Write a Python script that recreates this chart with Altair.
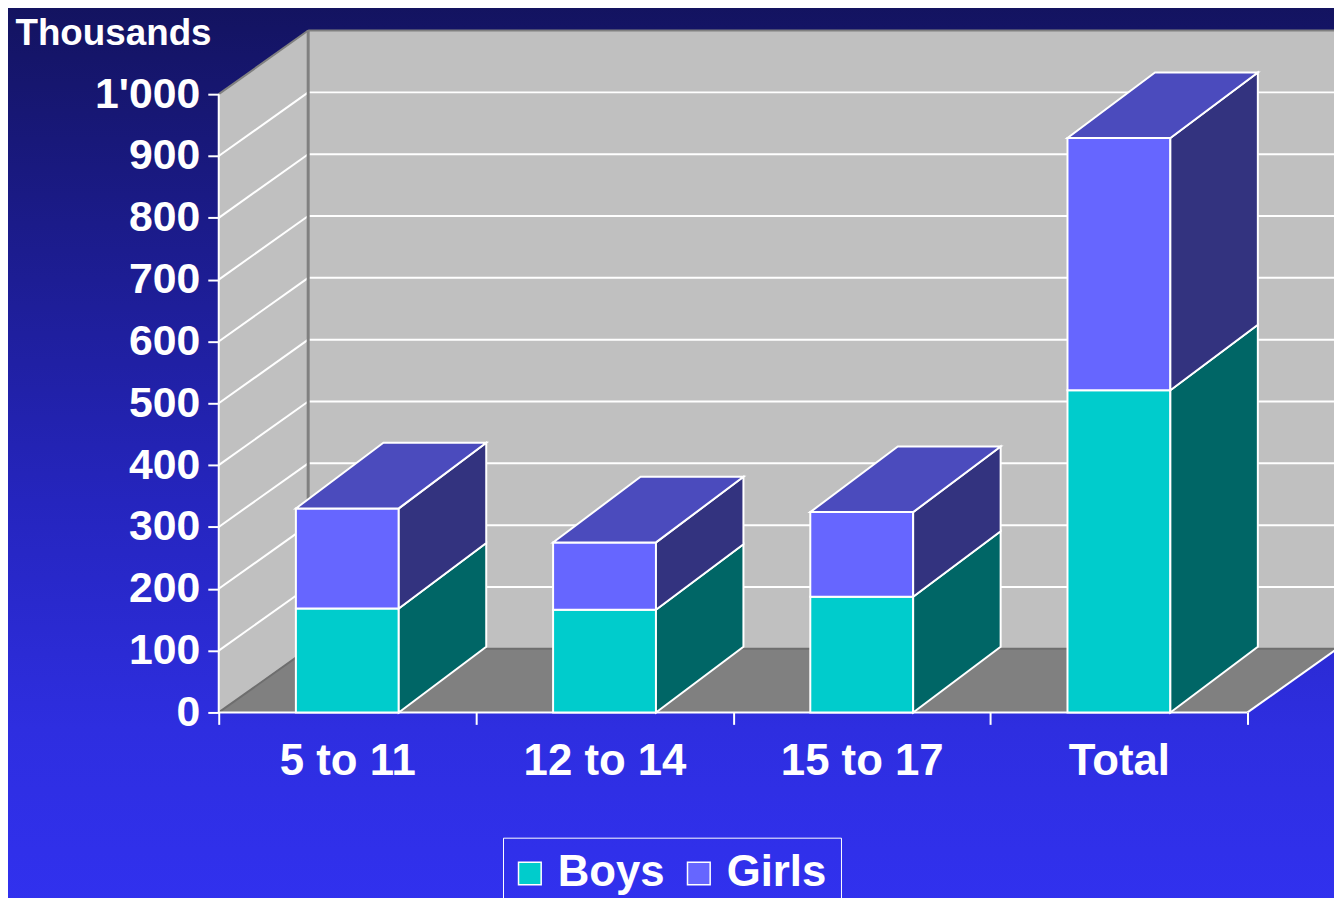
import altair as alt
import pandas as pd

# ---------------- data ----------------
categories = ["5 to 11", "12 to 14", "15 to 17", "Total"]
series = ["Boys", "Girls"]
boys = [168, 166, 187, 521]
girls = [162, 109, 137, 408]
y_ticks = list(range(0, 1001, 100))

# ---------------- style / geometry ----------------
FONT = "Liberation Sans"
W, H = 1122, 686                 # plot area in px
SLOT_PX = 258.75                 # px per category slot
Y_PX = 0.622                     # px per thousand
XMAX = W / SLOT_PX
YMAX = H / Y_PX
DX, DY = 90 / SLOT_PX, 64 / Y_PX     # wall depth
BDX, BDY = 88 / SLOT_PX, 66 / Y_PX   # bar depth
HALF = 0.2

front_col = {"Boys": "#00CCCC", "Girls": "#6666FF"}
side_col = {"Boys": "#006666", "Girls": "#33337F"}
top_col = {"Boys": "#00A3A3", "Girls": "#4B4BBD"}

xs = alt.Scale(domain=[0, XMAX], nice=False, zero=False)
ys = alt.Scale(domain=[0, YMAX], nice=False, zero=False)

# ---------------- bar geometry tables ----------------
fronts, sides, tops = [], [], []
for i, cat in enumerate(categories):
    xl, xr = i + 0.5 - HALF, i + 0.5 + HALF
    segs = [("Boys", 0, boys[i]), ("Girls", boys[i], boys[i] + girls[i])]
    for s, lo, hi in segs:
        fronts.append(dict(x=xl, x2=xr, y=lo, y2=hi, series=s, cat=cat))
        fid = f"{cat}-{s}"
        sides.append(dict(face=fid, x=xr, y=lo, y2=hi, fill=side_col[s]))
        sides.append(dict(face=fid, x=xr + BDX, y=lo + BDY, y2=hi + BDY, fill=side_col[s]))
    s, lo, hi = segs[-1]
    fid = f"{cat}-top"
    tops.append(dict(face=fid, y=hi, x=xl, x2=xr, fill=top_col[s]))
    tops.append(dict(face=fid, y=hi + BDY, x=xl + BDX, x2=xr + BDX, fill=top_col[s]))

df_front = pd.DataFrame(fronts)
df_side = pd.DataFrame(sides)
df_top = pd.DataFrame(tops)

# ---------------- walls ----------------
df_back = pd.DataFrame([dict(x=DX, x2=XMAX + 0.05, y=DY, y2=YMAX)])
df_left = pd.DataFrame([dict(face="L", x=0, y=0, y2=1000, fill="#C0C0C0"),
                        dict(face="L", x=DX, y=DY, y2=1000 + DY, fill="#C0C0C0")])
df_floor = pd.DataFrame([dict(face="F", y=0, x=0, x2=4, fill="#808080"),
                         dict(face="F", y=DY, x=DX, x2=4 + DX, fill="#808080")])

rules = []
for v in y_ticks[1:-1]:
    rules.append(dict(x=DX, x2=XMAX + 0.05, y=v + DY, y2=v + DY, c="white", w=2))
    rules.append(dict(x=0, x2=DX, y=v, y2=v + DY, c="white", w=2))
# wall edges / junctions
rules.append(dict(x=DX, x2=XMAX + 0.05, y=DY, y2=DY, c="#6E6E6E", w=2))
rules.append(dict(x=0, x2=DX, y=0, y2=DY, c="#6E6E6E", w=2))
rules.append(dict(x=DX, x2=DX, y=DY, y2=YMAX, c="#808080", w=3))
rules.append(dict(x=0, x2=DX, y=1000, y2=1000 + DY, c="#808080", w=2))
rules.append(dict(x=DX, x2=XMAX + 0.05, y=YMAX, y2=YMAX, c="#808080", w=2))
# front edges (white)
rules.append(dict(x=0, x2=4, y=0, y2=0, c="white", w=2))
rules.append(dict(x=0, x2=0, y=0, y2=1000, c="white", w=2))
rules.append(dict(x=4, x2=4 + DX, y=0, y2=DY, c="white", w=2))
df_rules = pd.DataFrame(rules)

# ---------------- axes ----------------
label_expr = "[" + ",".join(f"'{c}'" for c in categories) + ",''][datum.value]"
x_axis = alt.Axis(values=[0, 1, 2, 3, 4], labelExpr=label_expr, labelOffset=SLOT_PX / 2,
                  labelAlign="center", labelFlush=False, labelOverlap=False,
                  labelFont=FONT, labelFontSize=44, labelFontWeight="bold", labelColor="white",
                  labelPadding=15, tickColor="white", tickSize=12, tickWidth=2,
                  domain=False, grid=False, title=None, zindex=1)
y_axis = alt.Axis(values=y_ticks,
                  labelExpr="replace(format(datum.value, ','), ',', \"'\")",
                  labelFont=FONT, labelFontSize=43, labelFontWeight="bold", labelColor="white",
                  labelPadding=8, tickColor="white", tickSize=11, tickWidth=2,
                  domain=False, grid=False, title="Thousands", titleAngle=0,
                  titleAlign="left", titleBaseline="alphabetic", titleX=-205, titleY=14,
                  titleFont=FONT, titleFontSize=37, titleFontWeight="bold", titleColor="white",
                  zindex=1)


def X(field="x"):
    return alt.X(f"{field}:Q", scale=xs, axis=x_axis)


def Y(field="y"):
    return alt.Y(f"{field}:Q", scale=ys, axis=y_axis)


# ---------------- layers ----------------
bg = alt.Chart(pd.DataFrame({"a": [0]})).mark_rect(
    fill=alt.Gradient(gradient="linear", x1=0, y1=0, x2=0, y2=1,
                      stops=[alt.GradientStop(color="#13135F", offset=0),
                             alt.GradientStop(color="#2525BE", offset=0.55),
                             alt.GradientStop(color="#2E2EE0", offset=0.8),
                             alt.GradientStop(color="#3131EF", offset=1)])
).encode(x=alt.value(-220), x2=alt.value(W + 20), y=alt.value(-30), y2=alt.value(H + 200))

back = alt.Chart(df_back).mark_rect(fill="#C0C0C0").encode(
    x=X(), x2="x2", y=Y(), y2="y2")

left = alt.Chart(df_left).mark_area(orient="vertical").encode(
    x=X(), y=Y(), y2="y2",
    detail="face:N", color=alt.Color("fill:N", scale=None))

floor = alt.Chart(df_floor).mark_area(orient="horizontal").encode(
    y=Y(), x=X(), x2="x2",
    detail="face:N", color=alt.Color("fill:N", scale=None))

rule_layer = alt.Chart(df_rules).mark_rule().encode(
    x=X(), x2="x2", y=Y(), y2="y2",
    color=alt.Color("c:N", scale=None),
    strokeWidth=alt.StrokeWidth("w:Q", scale=None))

front = alt.Chart(df_front).mark_rect(stroke="white", strokeWidth=2).encode(
    x=X(), x2="x2", y=Y(), y2="y2",
    color=alt.Color("series:N",
                    scale=alt.Scale(domain=series, range=[front_col[s] for s in series]),
                    legend=alt.Legend(title=None, orient="none", direction="horizontal",
                                      legendX=286, legendY=812,
                                      symbolType="square", symbolSize=520,
                                      symbolStrokeColor="white", symbolStrokeWidth=1.5,
                                      symbolOpacity=1, symbolOffset=-9,
                                      labelFont=FONT, labelFontSize=44, labelFontWeight="bold",
                                      labelColor="white", labelOffset=6, columnPadding=19,
                                      strokeColor="white", padding=14)))

side = alt.Chart(df_side).mark_area(orient="vertical", stroke="white", strokeWidth=2).encode(
    x=X(), y=Y(), y2="y2",
    detail="face:N", color=alt.Color("fill:N", scale=None))

top = alt.Chart(df_top).mark_area(orient="horizontal", stroke="white", strokeWidth=2).encode(
    y=Y(), x=X(), x2="x2",
    detail="face:N", color=alt.Color("fill:N", scale=None))

chart = alt.layer(bg, back, left, floor, rule_layer, front, side, top).properties(
    width=W, height=H,
    padding={"left": 212, "top": 20, "right": 0, "bottom": 184},
    autosize=alt.AutoSizeParams(type="none"),
    background="#2E2EE0",
).configure_view(stroke=None)

chart.save("out.html", embed_options={"renderer": "svg", "actions": False})
